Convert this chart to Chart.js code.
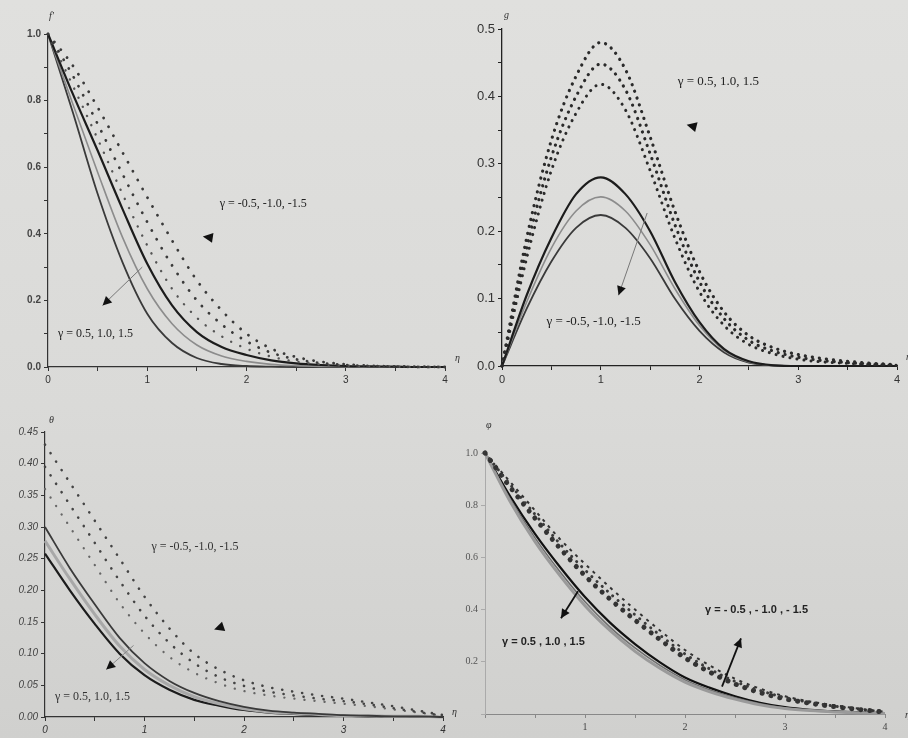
<!DOCTYPE html>
<html>
<head>
<meta charset="utf-8">
<script src="https://cdn.jsdelivr.net/npm/chart.js@4.4.0/dist/chart.umd.min.js"></script>
<style>
  html, body { margin: 0; padding: 0; }
  body {
    width: 908px; height: 738px; position: relative; overflow: hidden;
    background: linear-gradient(180deg, #e0e0de 0%, #dadad8 55%, #d0d0ce 100%);
  }
  canvas { position: absolute; }
</style>
</head>
<body>
<canvas id="fprime" width="460" height="395" style="left:0;top:0"></canvas>
<canvas id="gvel" width="448" height="395" style="left:460px;top:0"></canvas>
<canvas id="theta" width="460" height="338" style="left:0;top:400px"></canvas>
<canvas id="phi" width="448" height="338" style="left:460px;top:400px"></canvas>
<script>
// similarity variable
const eta = [0, 0.25, 0.5, 0.75, 1, 1.25, 1.5, 1.75, 2, 2.25, 2.5, 2.75, 3, 3.25, 3.5, 3.75, 4];

// f' profiles, solid = positive gamma, dotted = negative gamma
const fpPos05 = [1, 0.82, 0.65, 0.475, 0.31, 0.185, 0.105, 0.06, 0.036, 0.02, 0.011, 0.006, 0.003, 0.002, 0.001, 0, 0];
const fpPos10 = [1, 0.79, 0.585, 0.39, 0.235, 0.13, 0.066, 0.033, 0.017, 0.008, 0.004, 0.002, 0.001, 0, 0, 0, 0];
const fpPos15 = [1, 0.765, 0.52, 0.315, 0.16, 0.072, 0.027, 0.009, 0.003, 0.001, 0, 0, 0, 0, 0, 0, 0];
const fpNeg05 = [1, 0.845, 0.685, 0.52, 0.365, 0.235, 0.148, 0.092, 0.055, 0.031, 0.016, 0.008, 0.004, 0.002, 0.001, 0, 0];
const fpNeg10 = [1, 0.875, 0.73, 0.58, 0.435, 0.305, 0.2, 0.128, 0.077, 0.043, 0.023, 0.012, 0.006, 0.003, 0.001, 0, 0];
const fpNeg15 = [1, 0.905, 0.78, 0.645, 0.51, 0.38, 0.26, 0.17, 0.1, 0.055, 0.03, 0.016, 0.008, 0.004, 0.002, 0.001, 0];

// g profiles
const gNeg05 = [0, 0.105, 0.19, 0.255, 0.28, 0.255, 0.2, 0.125, 0.065, 0.025, 0.007, 0.001, 0, 0, 0, 0, 0];
const gNeg10 = [0, 0.095, 0.175, 0.23, 0.251, 0.23, 0.18, 0.115, 0.06, 0.023, 0.006, 0.001, 0, 0, 0, 0, 0];
const gNeg15 = [0, 0.085, 0.155, 0.205, 0.224, 0.205, 0.16, 0.1, 0.052, 0.02, 0.005, 0.001, 0, 0, 0, 0, 0];
const gPos05 = [0, 0.16, 0.29, 0.375, 0.418, 0.38, 0.29, 0.19, 0.11, 0.06, 0.032, 0.018, 0.01, 0.006, 0.004, 0.002, 0.001];
const gPos10 = [0, 0.175, 0.31, 0.4, 0.448, 0.41, 0.315, 0.21, 0.125, 0.07, 0.038, 0.022, 0.013, 0.008, 0.005, 0.003, 0.001];
const gPos15 = [0, 0.19, 0.335, 0.43, 0.48, 0.44, 0.34, 0.23, 0.14, 0.08, 0.045, 0.027, 0.017, 0.011, 0.007, 0.004, 0.002];

// theta profiles
const thPos05 = [0.3, 0.235, 0.178, 0.125, 0.085, 0.057, 0.038, 0.025, 0.016, 0.01, 0.007, 0.005, 0.003, 0.002, 0.001, 0.001, 0];
const thPos10 = [0.278, 0.218, 0.162, 0.112, 0.075, 0.05, 0.032, 0.021, 0.013, 0.008, 0.006, 0.004, 0.002, 0.002, 0.001, 0.001, 0];
const thPos15 = [0.258, 0.2, 0.147, 0.1, 0.066, 0.043, 0.027, 0.018, 0.011, 0.007, 0.005, 0.003, 0.002, 0.001, 0.001, 0, 0];
const thNeg05 = [0.36, 0.3, 0.24, 0.18, 0.132, 0.095, 0.07, 0.053, 0.041, 0.034, 0.029, 0.025, 0.021, 0.017, 0.012, 0.007, 0.002];
const thNeg10 = [0.395, 0.335, 0.275, 0.215, 0.16, 0.117, 0.085, 0.063, 0.049, 0.04, 0.034, 0.029, 0.025, 0.02, 0.014, 0.008, 0.002];
const thNeg15 = [0.43, 0.37, 0.31, 0.25, 0.19, 0.14, 0.1, 0.075, 0.058, 0.047, 0.04, 0.034, 0.029, 0.023, 0.017, 0.01, 0.003];

// phi profiles
const phPos05 = [1, 0.835, 0.69, 0.563, 0.448, 0.35, 0.268, 0.198, 0.14, 0.1, 0.068, 0.043, 0.026, 0.016, 0.01, 0.006, 0.003];
const phPos10 = [1, 0.825, 0.675, 0.545, 0.43, 0.333, 0.253, 0.186, 0.131, 0.092, 0.062, 0.039, 0.023, 0.014, 0.009, 0.005, 0.003];
const phPos15 = [1, 0.815, 0.66, 0.53, 0.415, 0.32, 0.24, 0.175, 0.122, 0.085, 0.057, 0.035, 0.021, 0.013, 0.008, 0.005, 0.002];
const phNeg05 = [1, 0.87, 0.75, 0.635, 0.53, 0.44, 0.36, 0.285, 0.215, 0.16, 0.115, 0.082, 0.058, 0.041, 0.028, 0.017, 0.007];
const phNeg10 = [1, 0.88, 0.765, 0.652, 0.552, 0.462, 0.38, 0.302, 0.23, 0.172, 0.125, 0.09, 0.063, 0.045, 0.03, 0.018, 0.007];
const phNeg15 = [1, 0.89, 0.78, 0.67, 0.575, 0.485, 0.4, 0.32, 0.245, 0.185, 0.135, 0.097, 0.068, 0.048, 0.033, 0.02, 0.008];

const posLabel = 'γ = 0.5, 1.0, 1.5';
const negLabel = 'γ = -0.5, -1.0, -1.5';

function series(values) {
  return eta.map((x, i) => ({ x: x, y: values[i] }));
}

function curve(values, style) {
  return Object.assign({
    data: series(values),
    pointRadius: 0,
    fill: false,
    cubicInterpolationMode: 'monotone',
    clip: 6
  }, style);
}

const solidDark = { borderColor: '#1c1c1c', borderWidth: 2.2 };
const solidGray = { borderColor: '#8c8c8c', borderWidth: 1.6 };
const solidMid = { borderColor: '#3a3a3a', borderWidth: 1.8 };

function dots(size, gap, color) {
  return { borderColor: color || '#2a2a2a', borderWidth: size, borderDash: [0.1, gap], borderCapStyle: 'round' };
}

function drawHead(ctx, x1, y1, x2, y2, len, half) {
  const a = Math.atan2(y2 - y1, x2 - x1);
  const bx = x2 - len * Math.cos(a), by = y2 - len * Math.sin(a);
  ctx.beginPath();
  ctx.moveTo(x2, y2);
  ctx.lineTo(bx + half * Math.sin(a), by - half * Math.cos(a));
  ctx.lineTo(bx - half * Math.sin(a), by + half * Math.cos(a));
  ctx.closePath();
  ctx.fill();
}

// labels, arrows and axis names, placed in data units
const notesPlugin = {
  id: 'notes',
  afterDatasetsDraw(chart, args, opts) {
    const ctx = chart.ctx;
    const xs = chart.scales.x, ys = chart.scales.y, area = chart.chartArea;
    ctx.save();
    ctx.textBaseline = 'middle';
    ctx.textAlign = 'left';
    (opts.texts || []).forEach(t => {
      ctx.font = t.font;
      ctx.fillStyle = t.color || '#222';
      ctx.fillText(t.text, xs.getPixelForValue(t.at[0]), ys.getPixelForValue(t.at[1]));
    });
    (opts.arrows || []).forEach(a => {
      const x1 = xs.getPixelForValue(a.from[0]), y1 = ys.getPixelForValue(a.from[1]);
      const x2 = xs.getPixelForValue(a.to[0]), y2 = ys.getPixelForValue(a.to[1]);
      if (a.line) {
        ctx.strokeStyle = a.line;
        ctx.lineWidth = a.width || 1;
        ctx.beginPath();
        ctx.moveTo(x1, y1);
        ctx.lineTo(x2, y2);
        ctx.stroke();
      }
      ctx.fillStyle = a.head || '#111';
      drawHead(ctx, x1, y1, x2, y2, a.len || 9, a.half || 4.5);
    });
    ctx.fillStyle = '#333';
    ctx.font = opts.titleFont;
    ctx.fillText(opts.yTitle, area.left + opts.yTitleAt[0], area.top + opts.yTitleAt[1]);
    ctx.fillText('η', area.right + opts.xTitleAt[0], area.bottom + opts.xTitleAt[1]);
    ctx.restore();
  }
};

function makePanel(id, box, datasets, axes, notes) {
  const canvas = document.getElementById(id);
  new Chart(canvas, {
    type: 'line',
    data: { datasets: datasets },
    options: {
      responsive: false,
      animation: false,
      layout: { padding: { left: 0, top: box.top, right: canvas.width - box.right, bottom: 0 } },
      plugins: { legend: { display: false }, tooltip: { enabled: false }, notes: notes },
      scales: {
        x: Object.assign({
          type: 'linear', min: 0, max: 4,
          afterFit: s => { s.height = canvas.height - box.bottom; }
        }, axes.x),
        y: Object.assign({
          type: 'linear',
          afterFit: s => { s.width = box.left; }
        }, axes.y)
      }
    },
    plugins: [notesPlugin]
  });
}

function axis(min, max, step, label, font, color, border) {
  return {
    min: min, max: max,
    ticks: { stepSize: step, callback: label, font: font, color: color, padding: 3, maxRotation: 0, autoSkip: false },
    grid: { drawOnChartArea: false, drawTicks: true, tickLength: 4, color: border.color, lineWidth: 1 },
    border: border
  };
}

const intLabel = v => Number.isInteger(v) ? String(v) : '';

// f'
makePanel('fprime', { left: 48, right: 445, top: 34, bottom: 367 }, [
  curve(fpNeg15, dots(2.8, 10, '#3a3a3a')),
  curve(fpNeg10, dots(2.8, 10, '#3a3a3a')),
  curve(fpNeg05, dots(2.4, 10, '#555')),
  curve(fpPos05, solidDark),
  curve(fpPos10, solidGray),
  curve(fpPos15, solidMid)
], {
  x: axis(0, 4, 0.5, intLabel, { family: 'Liberation Sans', size: 10 }, '#333', { color: '#333', width: 1.2 }),
  y: axis(0, 1, 0.1, v => Math.round(v * 10) % 2 === 0 ? v.toFixed(1) : '', { family: 'Liberation Sans', size: 10, weight: 'bold' }, '#444', { color: '#333', width: 1.2 })
}, {
  texts: [
    { text: negLabel, at: [1.73, 0.49], font: '12px "Liberation Serif"' },
    { text: posLabel, at: [0.1, 0.1], font: '12px "Liberation Serif"' }
  ],
  arrows: [
    { from: [1.72, 0.385], to: [1.56, 0.392], len: 10, half: 5 },
    { from: [0.95, 0.3], to: [0.55, 0.185], line: '#777', width: 1 }
  ],
  titleFont: 'italic 10px "Liberation Serif"', yTitle: 'f′', yTitleAt: [1, -18], xTitleAt: [10, -9]
});

// g
makePanel('gvel', { left: 42, right: 437, top: 29, bottom: 366 }, [
  curve(gPos15, dots(3.2, 7)),
  curve(gPos10, dots(3.2, 7)),
  curve(gPos05, dots(3, 7)),
  curve(gNeg05, solidDark),
  curve(gNeg10, solidGray),
  curve(gNeg15, solidMid)
], {
  x: axis(0, 4, 0.5, intLabel, { family: 'Liberation Sans', size: 11 }, '#333', { color: '#222', width: 1.3 }),
  y: axis(0, 0.5, 0.05, v => Math.round(v * 100) % 10 === 0 ? v.toFixed(1) : '', { family: 'Liberation Sans', size: 13 }, '#333', { color: '#222', width: 1.3 })
}, {
  texts: [
    { text: posLabel, at: [1.78, 0.422], font: '13px "Liberation Serif"' },
    { text: negLabel, at: [0.45, 0.066], font: '13px "Liberation Serif"' }
  ],
  arrows: [
    { from: [2.03, 0.352], to: [1.87, 0.358], len: 10, half: 5 },
    { from: [1.47, 0.227], to: [1.18, 0.105], line: '#777', width: 1 }
  ],
  titleFont: 'italic 10px "Liberation Serif"', yTitle: 'g', yTitleAt: [2, -14], xTitleAt: [9, -9]
});

// theta
makePanel('theta', { left: 45, right: 443, top: 32, bottom: 317 }, [
  curve(thNeg15, dots(2.6, 10, '#444')),
  curve(thNeg10, dots(2.6, 10, '#444')),
  curve(thNeg05, dots(2.3, 10, '#666')),
  curve(thPos05, solidMid),
  curve(thPos10, { borderColor: '#a8a8a8', borderWidth: 3 }),
  curve(thPos15, solidDark)
], {
  x: axis(0, 4, 0.5, intLabel, { family: 'Liberation Sans', size: 10, style: 'italic' }, '#333', { color: '#333', width: 1.2 }),
  y: axis(0, 0.45, 0.05, v => v.toFixed(2), { family: 'Liberation Sans', size: 10, style: 'italic' }, '#444', { color: '#333', width: 1.2 })
}, {
  texts: [
    { text: negLabel, at: [1.07, 0.268], font: '12px "Liberation Serif"', color: '#333' },
    { text: posLabel, at: [0.1, 0.032], font: '12px "Liberation Serif"', color: '#333' }
  ],
  arrows: [
    { from: [1.85, 0.146], to: [1.7, 0.138], len: 10, half: 5 },
    { from: [0.89, 0.113], to: [0.615, 0.075], line: '#888', width: 1 }
  ],
  titleFont: 'italic 10px "Liberation Serif"', yTitle: 'θ', yTitleAt: [4, -12], xTitleAt: [9, -5]
});

// phi
makePanel('phi', { left: 25, right: 425, top: 53, bottom: 314 }, [
  curve(phNeg15, { borderColor: '#333', borderWidth: 2, borderDash: [3, 5] }),
  curve(phNeg10, dots(3, 7, '#3a3a3a')),
  curve(phNeg05, dots(5, 9, '#333')),
  curve(phPos15, { borderColor: '#9a9a9a', borderWidth: 3 }),
  curve(phPos10, { borderColor: '#6e6e6e', borderWidth: 1.5 }),
  curve(phPos05, { borderColor: '#111', borderWidth: 2.2 })
], {
  x: axis(0, 4, 0.5, v => Number.isInteger(v) && v > 0 ? String(v) : '', { family: 'Liberation Serif', size: 10 }, '#444', { color: '#888', width: 1, dash: [2, 3] }),
  y: axis(0, 1, 0.2, v => v > 0.01 ? v.toFixed(1) : '', { family: 'Liberation Serif', size: 10 }, '#555', { color: '#aaa', width: 1 })
}, {
  texts: [
    { text: 'γ = - 0.5 , - 1.0 , - 1.5', at: [2.2, 0.4], font: 'bold 11px "Liberation Sans"', color: '#222' },
    { text: 'γ = 0.5 , 1.0 , 1.5', at: [0.17, 0.277], font: 'bold 11px "Liberation Sans"', color: '#222' }
  ],
  arrows: [
    { from: [0.93, 0.47], to: [0.76, 0.367], line: '#111', width: 1.8 },
    { from: [2.37, 0.105], to: [2.56, 0.29], line: '#111', width: 1.8 }
  ],
  titleFont: 'italic 10px "Liberation Serif"', yTitle: 'φ', yTitleAt: [1, -28], xTitleAt: [20, 1]
});
</script>
</body>
</html>
